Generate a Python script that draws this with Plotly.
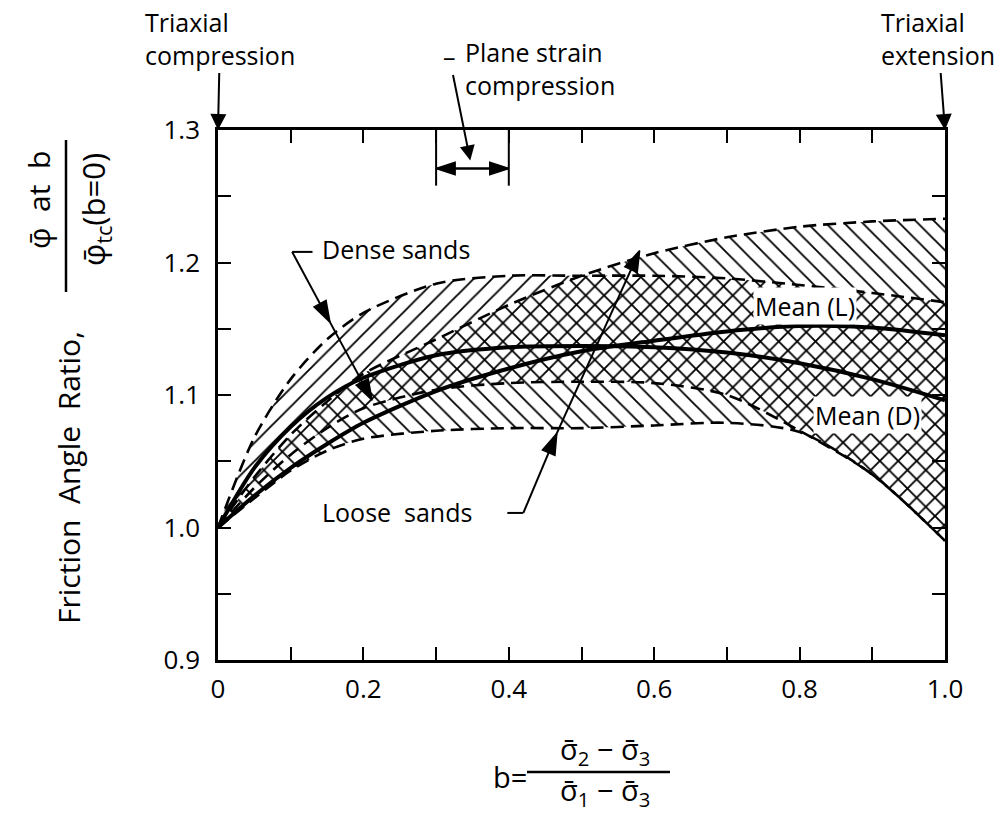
import plotly.graph_objects as go

# ---- data ----
B = [0, 0.05, 0.1, 0.15, 0.2, 0.3, 0.4, 0.5, 0.6, 0.7, 0.8, 0.9, 1.0]
dense_upper = [1.0, 1.068, 1.112, 1.142, 1.162, 1.184, 1.190, 1.190, 1.190, 1.188, 1.183, 1.177, 1.170]
dense_lower = [1.0, 1.030, 1.055, 1.075, 1.090, 1.104, 1.109, 1.110, 1.109, 1.100, 1.073, 1.040, 0.990]
loose_upper = [1.0, 1.038, 1.070, 1.095, 1.116, 1.142, 1.168, 1.190, 1.207, 1.219, 1.227, 1.231, 1.233]
loose_lower = [1.0, 1.022, 1.043, 1.058, 1.067, 1.073, 1.075, 1.075, 1.077, 1.079, 1.072, 1.040, 0.990]
mean_L = [1.0, 1.024, 1.045, 1.063, 1.079, 1.103, 1.120, 1.133, 1.141, 1.148, 1.152, 1.151, 1.145]
mean_D = [1.0, 1.045, 1.076, 1.098, 1.113, 1.130, 1.136, 1.137, 1.136, 1.132, 1.124, 1.112, 1.096]

x_tickvals = [0, 0.2, 0.4, 0.6, 0.8, 1.0]
x_ticktext = ["0", "0.2", "0.4", "0.6", "0.8", "1.0"]
y_tickvals = [0.9, 1.0, 1.1, 1.2, 1.3]
y_ticktext = ["0.9", "1.0", "1.1", "1.2", "1.3"]
plane_strain_range = [0.3, 0.4]

# annotation leader geometry (label call-outs)
dense_leader_x = [0.130, 0.102, 0.154, 0.212]
dense_leader_y = [1.208, 1.208, 1.155, 1.096]
loose_leader_x = [0.398, 0.420, 0.466, 0.580]
loose_leader_y = [1.011, 1.011, 1.071, 1.209]

FONT = "Open Sans"
K = "black"
dash_style = "13px,7px"

fig = go.Figure()

def band_line(y, fill=None, pattern=None):
    kw = dict(x=B, y=y, mode="lines",
              line=dict(color=K, width=2.6, dash=dash_style, shape="spline", smoothing=0.8),
              hoverinfo="skip", showlegend=False)
    if fill:
        kw.update(fill=fill, fillcolor="rgba(0,0,0,0)",
                  fillpattern=dict(shape=pattern, fgcolor=K, size=13, solidity=0.14, fillmode="replace"))
    return go.Scatter(**kw)

# Dense sands band ("/" hatch)
fig.add_trace(band_line(dense_lower))
fig.add_trace(band_line(dense_upper, "tonexty", "/"))
# Loose sands band ("\" hatch)
fig.add_trace(band_line(loose_lower))
fig.add_trace(band_line(loose_upper, "tonexty", "\\"))
# Mean curves
for ym in (mean_L, mean_D):
    fig.add_trace(go.Scatter(x=B, y=ym, mode="lines",
                             line=dict(color=K, width=4, shape="spline", smoothing=0.8),
                             hoverinfo="skip", showlegend=False))

# leader lines with arrowheads
def leader(xs, ys, sizes):
    return go.Scatter(x=xs, y=ys, mode="lines+markers", opacity=1,
                      line=dict(color=K, width=2),
                      marker=dict(symbol="arrow", size=sizes, color="#000000", opacity=1,
                                  angleref="previous", line=dict(width=1.5, color="#000000")),
                      hoverinfo="skip", showlegend=False, cliponaxis=False)

fig.add_trace(leader(dense_leader_x, dense_leader_y, [0, 0, 22, 22]))
fig.add_trace(leader(loose_leader_x, loose_leader_y, [0, 0, 22, 22]))
fig.add_trace(leader([plane_strain_range[0], plane_strain_range[1], plane_strain_range[0]],
                     [1.271, 1.271, 1.271], [0, 20, 20]))

axis_common = dict(showline=True, linecolor=K, linewidth=2.5, mirror="ticks",
                   ticks="inside", ticklen=13, tickwidth=2, tickcolor=K,
                   showgrid=False, zeroline=False,
                   tickfont=dict(family=FONT, size=26, color=K))
fig.update_xaxes(range=[0, 1], tickvals=x_tickvals, ticktext=x_ticktext,
                 minor=dict(dtick=0.1, ticks="inside", ticklen=13, tickwidth=2, tickcolor=K, showgrid=False),
                 ticklabelstandoff=4, **axis_common)
fig.update_yaxes(range=[0.9, 1.3], tickvals=y_tickvals, ticktext=y_ticktext,
                 minor=dict(dtick=0.05, ticks="inside", ticklen=13, tickwidth=2, tickcolor=K, showgrid=False),
                 ticklabelstandoff=10, **axis_common)

ann = []
shapes = []
tfont = dict(family=FONT, size=25, color=K)

def px2paper_x(px):
    return (px - 218) / 727

def px2paper_y(py):
    return (660 - py) / 530

# Triaxial compression / extension
ann.append(dict(x=0, y=1.3, xref="x", yref="y", text="Triaxial<br>compression", align="left",
                showarrow=True, ax=2, ay=-92, arrowhead=2, arrowsize=1.6, arrowwidth=2, arrowcolor=K,
                font=tfont))
ann.append(dict(x=1.0, y=1.3, xref="x", yref="y", text="Triaxial<br>extension", align="left",
                showarrow=True, ax=-7, ay=-92, arrowhead=2, arrowsize=1.6, arrowwidth=2, arrowcolor=K,
                font=tfont))

# Plane strain compression
for xv in plane_strain_range:
    shapes.append(dict(type="line", xref="x", yref="y", x0=xv, x1=xv, y0=1.3, y1=1.258,
                       line=dict(color=K, width=2)))
ann.append(dict(x=px2paper_x(463), y=px2paper_y(68), xref="paper", yref="paper",
                text="Plane strain<br>compression", align="left", xanchor="left",
                yanchor="middle", showarrow=False, font=tfont))
ann.append(dict(x=0.347, y=1.277, xref="x", yref="y", text="–", showarrow=True,
                ax=-21, ay=-104, arrowhead=2, arrowsize=1.5, arrowwidth=2, arrowcolor=K,
                font=dict(family=FONT, size=25, color=K)))

# Dense / loose sands labels
ann.append(dict(x=0.140, y=1.210, xref="x", yref="y", text="Dense sands", xanchor="left",
                yanchor="middle", showarrow=False, font=tfont))
ann.append(dict(x=0.140, y=1.012, xref="x", yref="y", text="Loose  sands", xanchor="left",
                yanchor="middle", showarrow=False, font=tfont))

# Mean labels
ann.append(dict(x=0.807, y=1.167, xref="x", yref="y", text="Mean (L)", showarrow=False,
                bgcolor="white", borderpad=1, font=dict(family=FONT, size=25, color=K)))
ann.append(dict(x=0.893, y=1.085, xref="x", yref="y", text="Mean (D)", showarrow=False,
                bgcolor="white", borderpad=1, font=dict(family=FONT, size=25, color=K)))

# Y-axis title (rotated, with fraction)
ann.append(dict(x=px2paper_x(68), y=px2paper_y(478), xref="paper", yref="paper",
                text="Friction  Angle  Ratio,", textangle=-90, showarrow=False,
                xanchor="center", yanchor="middle", font=dict(family=FONT, size=30, color=K)))
ann.append(dict(x=px2paper_x(38), y=px2paper_y(200), xref="paper", yref="paper",
                text="φ\u0304  at  b", textangle=-90, showarrow=False,
                xanchor="center", yanchor="middle", font=dict(family=FONT, size=30, color=K)))
shapes.append(dict(type="line", xref="paper", yref="paper", x0=px2paper_x(66), x1=px2paper_x(66),
                   y0=px2paper_y(140), y1=px2paper_y(292), line=dict(color=K, width=2.5)))
ann.append(dict(x=px2paper_x(95), y=px2paper_y(210), xref="paper", yref="paper",
                text="φ\u0304<sub>tc</sub>(b=0)", textangle=-90, showarrow=False,
                xanchor="center", yanchor="middle", font=dict(family=FONT, size=31, color=K)))

# X-axis title (fraction)
ann.append(dict(x=px2paper_x(510), y=px2paper_y(776), xref="paper", yref="paper",
                text="b=", showarrow=False, xanchor="center", yanchor="middle",
                font=dict(family=FONT, size=29, color=K)))
ann.append(dict(x=px2paper_x(605), y=px2paper_y(750), xref="paper", yref="paper",
                text="σ\u0304<sub>2</sub> − σ\u0304<sub>3</sub>", showarrow=False,
                xanchor="center", yanchor="middle", font=dict(family=FONT, size=29, color=K)))
shapes.append(dict(type="line", xref="paper", yref="paper", x0=px2paper_x(527), x1=px2paper_x(670),
                   y0=px2paper_y(772), y1=px2paper_y(772), line=dict(color=K, width=2.5)))
ann.append(dict(x=px2paper_x(605), y=px2paper_y(791), xref="paper", yref="paper",
                text="σ\u0304<sub>1</sub> − σ\u0304<sub>3</sub>", showarrow=False,
                xanchor="center", yanchor="middle", font=dict(family=FONT, size=29, color=K)))

fig.update_layout(width=1006, height=818, autosize=False,
                  margin=dict(l=218, r=61, t=130, b=158),
                  plot_bgcolor="white", paper_bgcolor="white",
                  annotations=ann, shapes=shapes, showlegend=False,
                  font=dict(family=FONT, color=K))

fig.write_html("out.html")
